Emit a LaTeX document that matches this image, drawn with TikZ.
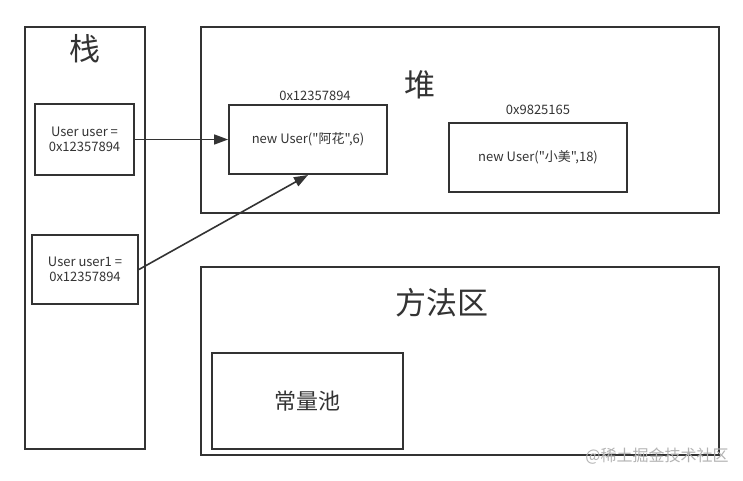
\documentclass[tikz,border=0pt]{standalone}
\usepackage{fontspec}
\newfontfamily\cjk{Noto Sans CJK SC}
\usetikzlibrary{arrows.meta}
\definecolor{ink}{HTML}{333333}
\begin{document}
\begin{tikzpicture}[x=1pt,y=-1pt,font=\cjk,
  box/.style={draw=ink,line width=1.8pt},
  lbl/.style={text=ink,font=\cjk\fontsize{13}{15.5}\selectfont,align=center,inner sep=0pt},
  big/.style={text=ink,inner sep=0pt},
  conn/.style={draw=ink,line width=1.6pt,-{Triangle[length=14pt,width=10pt]}}]
\useasboundingbox (0,0) rectangle (743,480);
% regions
\draw[box] (25,27) rectangle (145,449);
\node[big,font=\cjk\fontsize{31}{33}\selectfont] (stk) at (85,49) {栈};
\draw[box] (201,27) rectangle (719,213);
\node[big,font=\cjk\fontsize{31}{33}\selectfont] (heap) at (420,85) {堆};
\draw[box] (201,267) rectangle (719,455);
\node[big,font=\cjk\fontsize{31}{33}\selectfont] (meth) at (442,303) {方法区};
% stack entries
\node[box,lbl,minimum width=99pt,minimum height=71pt] (u) at (84.5,139.5) {User user =\\0x12357894};
\node[box,lbl,minimum width=106pt,minimum height=69pt] (u1) at (85,269.5) {User user1 =\\0x12357894};
% heap objects
\node[box,lbl,minimum width=158pt,minimum height=69pt] (o1) at (308,139.5) {new User("阿花",6)};
\node[lbl] (a1) at (315,96) {0x12357894};
\node[box,lbl,minimum width=178pt,minimum height=69pt] (o2) at (538,157.5) {new User("小美",18)};
\node[lbl] (a2) at (538,110) {0x9825165};
% constant pool
\node[box,big,font=\cjk\fontsize{22}{24}\selectfont,minimum width=191pt,minimum height=96pt] (cp) at (307.5,401) {常量池};
% connectors
\draw[conn] (u.east) -- (o1.west);
\coordinate (tgt) at (308,175);
\draw[conn] (u1.east) -- (tgt);
% watermark
\node[text=black!30,font=\cjk\fontsize{16}{18}\selectfont,inner sep=0pt] (wm) at (657,456) {@稀土掘金技术社区};
\end{tikzpicture}
\end{document}
